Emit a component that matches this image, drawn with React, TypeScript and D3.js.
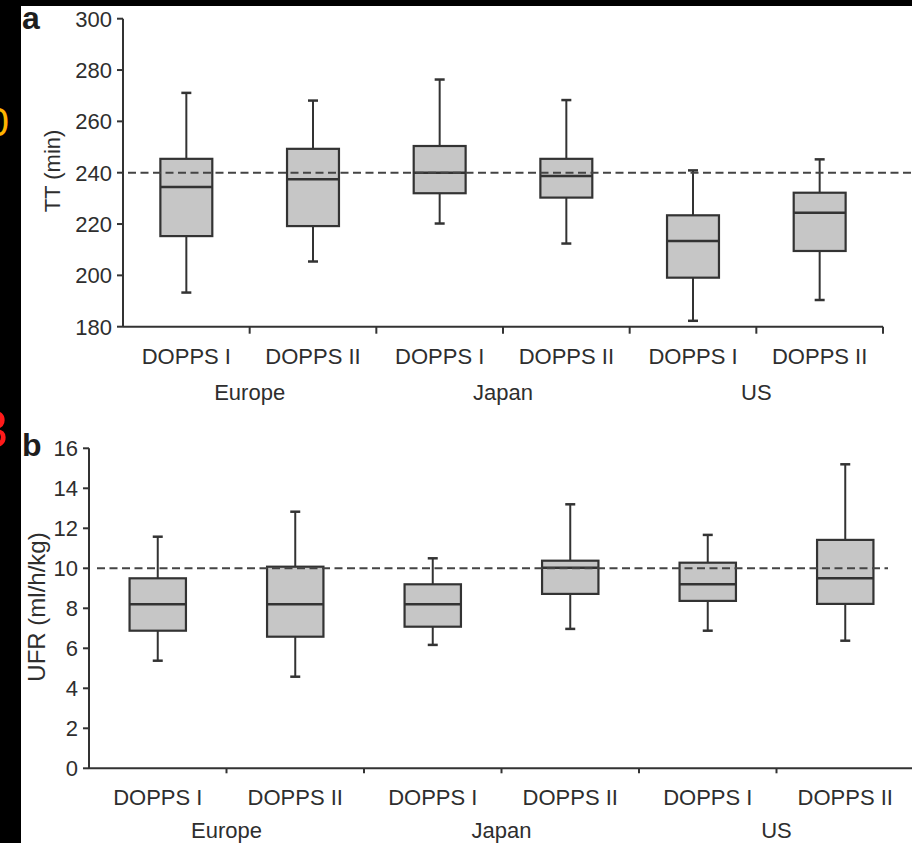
import React from "react";
import * as d3 from "d3";

const phases = ["DOPPS I", "DOPPS II", "DOPPS I", "DOPPS II", "DOPPS I", "DOPPS II"];
const regions = ["Europe", "Japan", "US"];

const ttTicks = [180, 200, 220, 240, 260, 280, 300];
const ttMin = [193.3, 205.4, 220.2, 212.4, 182.3, 190.4];
const ttQ1 = [215.3, 219.2, 232.0, 230.3, 199.1, 209.5];
const ttMedian = [234.4, 237.4, 240.0, 238.7, 213.4, 224.4];
const ttQ3 = [245.4, 249.3, 250.4, 245.4, 223.4, 232.2];
const ttMax = [271.1, 268.1, 276.3, 268.3, 240.9, 245.2];
const ttRef = 240;

const ufrTicks = [0, 2, 4, 6, 8, 10, 12, 14, 16];
const ufrMin = [5.38, 4.58, 6.17, 6.97, 6.88, 6.38];
const ufrQ1 = [6.88, 6.58, 7.08, 8.72, 8.37, 8.22];
const ufrMedian = [8.2, 8.2, 8.2, 10.03, 9.2, 9.5];
const ufrQ3 = [9.5, 10.08, 9.2, 10.38, 10.28, 11.42];
const ufrMax = [11.58, 12.83, 10.5, 13.2, 11.67, 15.2];
const ufrRef = 10;

const INK = "#333";
const TEXT = "#2e2e2e";
const FILL = "#c6c6c6";
const FONT = "'Liberation Sans', Arial, Helvetica, sans-serif";

type PanelProps = {
  letter: string;
  letterX: number;
  letterY: number;
  x0: number;
  x1: number;
  yTop: number;
  yBottom: number;
  domain: [number, number];
  ticks: number[];
  mins: number[];
  q1s: number[];
  medians: number[];
  q3s: number[];
  maxs: number[];
  refValue: number;
  refX0: number;
  refX1: number;
  title: string;
  titleX: number;
  titleY: number;
  titleSize: number;
  catY: number;
  groupY: number;
  xTickLen: number;
};

function Panel(p: PanelProps) {
  const keys = phases.map((_, i) => String(i));
  const x = d3.scaleBand<string>().domain(keys).range([p.x0, p.x1]).padding(0);
  const y = d3.scaleLinear().domain(p.domain).range([p.yBottom, p.yTop]);
  const bw = x.bandwidth();
  const boxW = bw * 0.41;
  const capW = 10;
  const boundaries = keys.map((k) => (x(k) as number) + bw);

  return (
    <g>
      <text x={p.letterX} y={p.letterY} fontSize={32} fontWeight="bold" fill="#1e1e1e" fontFamily={FONT}>
        {p.letter}
      </text>
      {/* y axis */}
      <line x1={p.x0} x2={p.x0} y1={y(p.domain[1])} y2={y(p.domain[0])} stroke={INK} strokeWidth={2} />
      {p.ticks.map((t) => (
        <g key={t}>
          <line x1={p.x0 - 6} x2={p.x0} y1={y(t)} y2={y(t)} stroke={INK} strokeWidth={2} />
          <text x={p.x0 - 11} y={y(t)} dy="0.36em" textAnchor="end" fontSize={22} fill={TEXT} fontFamily={FONT}>
            {t}
          </text>
        </g>
      ))}
      <text
        transform={`translate(${p.titleX},${p.titleY}) rotate(-90)`}
        textAnchor="middle"
        dy="0.36em"
        fontSize={p.titleSize}
        fill={TEXT}
        fontFamily={FONT}
      >
        {p.title}
      </text>
      {/* x axis */}
      <line x1={p.x0} x2={p.x1} y1={y(p.domain[0])} y2={y(p.domain[0])} stroke={INK} strokeWidth={2} />
      {boundaries.map((b, i) => (
        <line key={i} x1={b} x2={b} y1={y(p.domain[0])} y2={y(p.domain[0]) + p.xTickLen} stroke={INK} strokeWidth={2} />
      ))}
      {phases.map((ph, i) => (
        <text
          key={i}
          x={(x(String(i)) as number) + bw / 2}
          y={p.catY}
          textAnchor="middle"
          fontSize={22}
          fill={TEXT}
          fontFamily={FONT}
        >
          {ph}
        </text>
      ))}
      {regions.map((r, j) => (
        <text
          key={r}
          x={(x(String(j * 2)) as number) + bw}
          y={p.groupY}
          textAnchor="middle"
          fontSize={22}
          fill={TEXT}
          fontFamily={FONT}
        >
          {r}
        </text>
      ))}
      {/* boxes */}
      {keys.map((k, i) => {
        const cx = (x(k) as number) + bw / 2;
        return (
          <g key={k}>
            <line x1={cx} x2={cx} y1={y(p.maxs[i])} y2={y(p.q3s[i])} stroke={INK} strokeWidth={2} />
            <line x1={cx} x2={cx} y1={y(p.q1s[i])} y2={y(p.mins[i])} stroke={INK} strokeWidth={2} />
            <line x1={cx - capW / 2} x2={cx + capW / 2} y1={y(p.maxs[i])} y2={y(p.maxs[i])} stroke={INK} strokeWidth={2.5} />
            <line x1={cx - capW / 2} x2={cx + capW / 2} y1={y(p.mins[i])} y2={y(p.mins[i])} stroke={INK} strokeWidth={2.5} />
            <rect
              x={cx - boxW / 2}
              y={y(p.q3s[i])}
              width={boxW}
              height={y(p.q1s[i]) - y(p.q3s[i])}
              fill={FILL}
              stroke={INK}
              strokeWidth={2.2}
            />
            <line x1={cx - boxW / 2} x2={cx + boxW / 2} y1={y(p.medians[i])} y2={y(p.medians[i])} stroke={INK} strokeWidth={2.5} />
          </g>
        );
      })}
      {/* reference line */}
      <line
        x1={p.refX0}
        x2={p.refX1}
        y1={y(p.refValue)}
        y2={y(p.refValue)}
        stroke="#444"
        strokeWidth={2}
        strokeDasharray="8,4.5"
      />
    </g>
  );
}

export default function App() {
  return (
    <svg
      width={912}
      height={843}
      style={{ position: "absolute", left: 0, top: 0, display: "block" }}
      viewBox="0 0 912 843"
    >
      <rect x={0} y={0} width={912} height={843} fill="#000" />
      <rect x={21} y={6} width={891} height={837} fill="#fff" />
      <text x={9} y={136} textAnchor="end" fontSize={40} fill="#ffb300" fontFamily={FONT}>
        0
      </text>
      <text x={8} y={447} textAnchor="end" fontSize={52} fill="#ff1a1a" fontFamily={FONT}>
        3
      </text>
      <Panel
        letter="a"
        letterX={22}
        letterY={29}
        x0={123}
        x1={883}
        yTop={18.7}
        yBottom={326.7}
        domain={[180, 300]}
        ticks={ttTicks}
        mins={ttMin}
        q1s={ttQ1}
        medians={ttMedian}
        q3s={ttQ3}
        maxs={ttMax}
        refValue={ttRef}
        refX0={128}
        refX1={912}
        title="TT (min)"
        titleX={52}
        titleY={171}
        titleSize={22}
        catY={364}
        groupY={400}
        xTickLen={7}
      />
      <Panel
        letter="b"
        letterX={22}
        letterY={456}
        x0={89}
        x1={914}
        yTop={448.3}
        yBottom={768.3}
        domain={[0, 16]}
        ticks={ufrTicks}
        mins={ufrMin}
        q1s={ufrQ1}
        medians={ufrMedian}
        q3s={ufrQ3}
        maxs={ufrMax}
        refValue={ufrRef}
        refX0={97}
        refX1={888}
        title="UFR (ml/h/kg)"
        titleX={36}
        titleY={607}
        titleSize={24}
        catY={805}
        groupY={837.5}
        xTickLen={5}
      />
    </svg>
  );
}
